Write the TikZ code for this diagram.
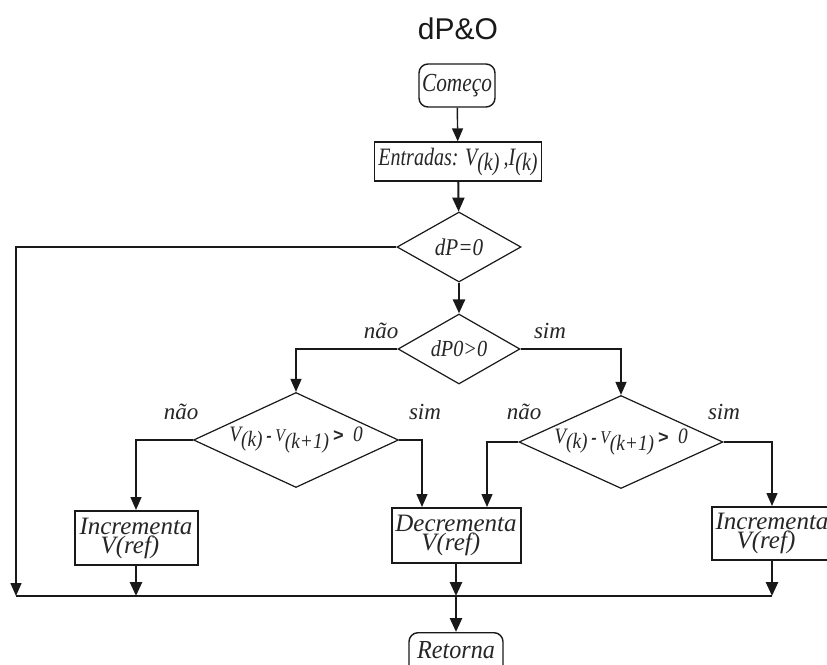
\documentclass[tikz,border=0pt]{standalone}
\usepackage{fontspec}
\setmainfont{Liberation Serif}
\setsansfont{Liberation Sans}
\newfontfamily\fA[FakeStretch=0.82]{Liberation Serif}
\newfontfamily\fB[FakeStretch=0.8]{Liberation Serif}
\newfontfamily\fC[FakeStretch=0.93]{Liberation Serif}
\newfontfamily\fD[FakeStretch=0.88]{Liberation Serif}
\usetikzlibrary{arrows.meta,shapes.geometric}
\definecolor{txt}{gray}{0.15}
\tikzset{
  conn/.style={line width=1.4pt,draw=black!90},
  arr/.style={conn,-{Triangle[length=13pt,width=11pt]}},
  tarr/.style={line width=2.6pt,draw=black!90,-{Triangle[length=14pt,width=12pt]}},
  decision/.style={draw=black!90,shape=diamond,line width=1.2pt,inner sep=0pt,text=txt},
  procbox/.style={draw=black!90,rectangle,line width=2pt,inner sep=0pt,text=txt,align=left},
  termbox/.style={draw=black!90,rectangle,rounded corners=9pt,line width=1.4pt,inner sep=0pt,text=txt},
  lbl/.style={text=black!85,font=\fontsize{23}{23}\selectfont\itshape,inner sep=0pt}
}
\begin{document}
\begin{tikzpicture}[x=1pt,y=-1pt]
\useasboundingbox (0,0) rectangle (827,664);
\clip (0,0) rectangle (827,664);
\fill[white] (0,0) rectangle (827,664);

% title
\node[font=\sffamily\fontsize{30}{30}\selectfont,text=black!90] (title) at (458,29) {dP\&O};

% terminals and inputs
\node[termbox,minimum width=76pt,minimum height=43pt,font=\fA\fontsize{26}{26}\selectfont\itshape] (start) at (457,85.5) {Começo};
\node[procbox,line width=1.3pt,minimum width=167pt,minimum height=39pt,font=\fB\fontsize{25}{25}\selectfont\itshape] (inp) at (458,161.5)
  {Entradas: V\raisebox{-5pt}{(k)}\,,I\raisebox{-5pt}{(k)}};

% decisions
\node[decision,minimum width=124pt,minimum height=70pt,shape aspect=1.77,font=\fD\fontsize{24}{24}\selectfont\itshape] (d1) at (459,247) {dP=0};
\node[decision,minimum width=122pt,minimum height=70pt,shape aspect=1.74,font=\fD\fontsize{23}{23}\selectfont\itshape] (d2) at (459,349) {dP0>0};
\node[decision,minimum width=205pt,minimum height=95pt,shape aspect=2.16,font=\fD\fontsize{22}{22}\selectfont\itshape] (d3) at (296,440)
  {V\raisebox{-5pt}{(k)}\,{\sffamily\bfseries\fontsize{16}{16}\selectfont -}\,{\fontsize{18}{18}\selectfont V}\raisebox{-7pt}{(k+1)}\,{\sffamily\bfseries\fontsize{18}{18}\selectfont >}\ \ 0};
\node[decision,minimum width=204pt,minimum height=93pt,shape aspect=2.19,font=\fD\fontsize{22}{22}\selectfont\itshape] (d4) at (621,442)
  {V\raisebox{-5pt}{(k)}\,{\sffamily\bfseries\fontsize{16}{16}\selectfont -}\,{\fontsize{18}{18}\selectfont V}\raisebox{-7pt}{(k+1)}\,{\sffamily\bfseries\fontsize{18}{18}\selectfont >}\ \ 0};

% process boxes
\node[procbox,minimum width=123pt,minimum height=54pt,font=\fontsize{25}{19}\selectfont\itshape] (inc1) at (136,538)
  {Incrementa\\\hspace*{21pt}V(ref)};
\node[procbox,minimum width=129pt,minimum height=55pt,font=\fontsize{25}{19}\selectfont\itshape] (dec) at (456,535.5)
  {Decrementa\\\hspace*{26pt}V(ref)};
\node[procbox,minimum width=120pt,minimum height=53pt,font=\fontsize{25}{19}\selectfont\itshape] (inc2) at (772,533.5)
  {Incrementa\\\hspace*{21pt}V(ref)};

\node[termbox,anchor=north,minimum width=94pt,minimum height=44pt,font=\fC\fontsize{26}{26}\selectfont\itshape] (ret) at (456,632)
  {\raisebox{9pt}{Retorna}};

% helper coordinates
\coordinate (L1) at (16,247);
\coordinate (L2) at (16,596);
\coordinate (J1) at (136,596);
\coordinate (J2) at (456,596);
\coordinate (J3) at (772,596);
\coordinate (decL) at ([xshift=-34pt]dec.north);
\coordinate (decR) at ([xshift=31pt]dec.north);

% connectors
\draw[arr] (start) -- (inp);
\draw[tarr,line width=2pt] (inp) -- (d1);
\draw[arr] (d1.west) -- (L1) -- (L2);
\draw[tarr] (d1.south) -- (d2.north);
\draw[arr] (d2.west) -| (d3.north);
\draw[arr] (d2.east) -| (d4.north);
\draw[arr] (d3.west) -| (inc1.north);
\draw[arr] (d3.east) -| (decL);
\draw[arr] (d4.west) -| (decR);
\draw[arr] (d4.east) -| (inc2.north);
\draw[conn,line width=1.2pt] (L2) -- (J3);
\draw[tarr] (inc1.south) -- (J1);
\draw[tarr] (dec.south) -- (J2);
\draw[tarr] (inc2.south) -- (J3);
\draw[tarr] (J2) -- (ret.north);

% branch labels
\node[lbl] (n2) at (381,331) {não};
\node[lbl] (s2) at (550,331) {sim};
\node[lbl] (n3) at (181,412) {não};
\node[lbl] (s3) at (425,412) {sim};
\node[lbl] (n4) at (524,412) {não};
\node[lbl] (s4) at (724,412) {sim};
\end{tikzpicture}
\end{document}
